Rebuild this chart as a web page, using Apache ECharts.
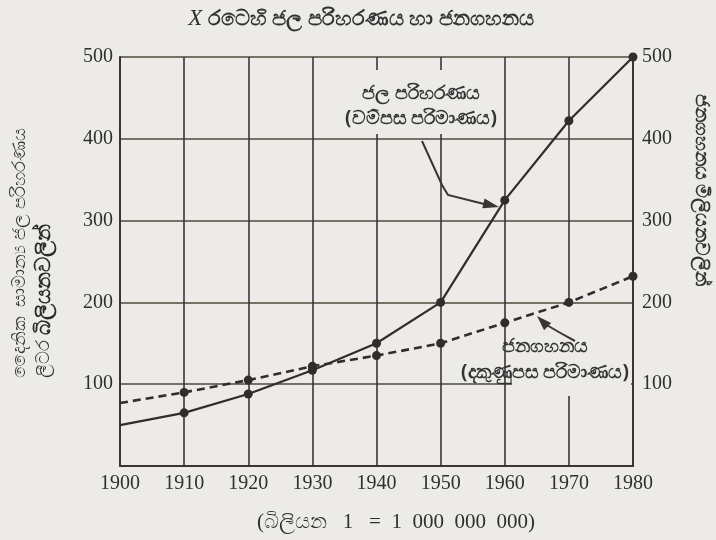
<!DOCTYPE html>
<html><head><meta charset="utf-8">
<script src="https://cdn.jsdelivr.net/npm/echarts@6/dist/echarts.min.js"></script>
<style>html,body{margin:0;padding:0;background:#ecebe8;}#c{width:716px;height:540px;}</style>
</head><body><div id="c"></div>
<script>
const years = [1900, 1910, 1920, 1930, 1940, 1950, 1960, 1970, 1980];
const waterUse = [50, 65, 88, 117, 150, 200, 325, 422, 500];
const population = [77, 90, 105, 122, 135, 150, 175, 200, 232];
const yTicks = [100, 200, 300, 400, 500];

const BG = '#ecebe8';
const INK = '#3a3434';
const chart = echarts.init(document.getElementById('c'));

function pts(vals){ return years.map((y,i)=> ({value:[y, vals[i]], symbol: i===0 ? 'none' : 'circle'})); }

function arrowHead(tip, from, len, wid){
  const dx = tip[0]-from[0], dy = tip[1]-from[1];
  const d = Math.hypot(dx,dy); const ux=dx/d, uy=dy/d;
  const bx = tip[0]-ux*len, by = tip[1]-uy*len;
  return [tip, [bx - uy*wid/2, by + ux*wid/2], [bx + uy*wid/2, by - ux*wid/2]];
}

const serif = 'Liberation Serif';
const axisLabelStyle = {color: '#2f2f2f', fontFamily: serif, fontSize: 20};

const option = {
  backgroundColor: BG,
  animation: false,
  grid: {left: 120, right: 83, top: 57, bottom: 74},
  xAxis: {
    type: 'value', min: 1900, max: 1980, interval: 10,
    axisLine: {show: true, lineStyle: {color: INK, width: 2}},
    axisTick: {show: false},
    axisLabel: Object.assign({margin: 8, formatter: v => String(v)}, axisLabelStyle),
    splitLine: {show: true, lineStyle: {color: '#3d3434', width: 1.6}}
  },
  yAxis: [{
    type: 'value', min: 0, max: 500, interval: 100, position: 'left',
    axisLine: {show: true, lineStyle: {color: INK, width: 2}},
    axisTick: {show: false},
    axisLabel: Object.assign({margin: 7, formatter: v => yTicks.includes(v) ? String(v) : ''}, axisLabelStyle),
    splitLine: {show: true, lineStyle: {color: '#4b4a3c', width: 1.6}}
  },{
    type: 'value', min: 0, max: 500, interval: 100, position: 'right',
    axisLine: {show: true, lineStyle: {color: INK, width: 2}},
    axisTick: {show: false},
    axisLabel: Object.assign({margin: 9, formatter: v => yTicks.includes(v) ? String(v) : ''}, axisLabelStyle),
    splitLine: {show: false}
  }],
  series: [{
    type: 'line', yAxisIndex: 0, data: pts(waterUse),
    symbolSize: 9, itemStyle: {color: '#332c2c'},
    lineStyle: {color: '#332c2c', width: 2.2}, z: 5
  },{
    type: 'line', yAxisIndex: 1, data: pts(population),
    symbolSize: 9, itemStyle: {color: '#332c2c'},
    lineStyle: {color: '#332c2c', width: 2.6, type: [8, 5]}, z: 5
  }],
  graphic: [
    // paper patches where the reference grid is broken by its labels
    {type: 'rect', z: 1, shape: {x: 345, y: 70, width: 156, height: 64}, style: {fill: BG}},
    {type: 'rect', z: 1, shape: {x: 512, y: 328, width: 119, height: 68}, style: {fill: BG}},
    {type: 'rect', z: 1, shape: {x: 565, y: 306, width: 6, height: 24}, style: {fill: BG}},
    {type: 'text', x: 361, y: 19, style: {
      text: '{x|X} රටෙහි ජල පරිහරණය හා ජනගහනය',
      rich: {x: {fontFamily: serif, fontStyle: 'italic', fontSize: 23, fill: '#2f2f2f'}},
      font: 'bold 21px "Noto Sans"', fill: '#333', align: 'center', verticalAlign: 'middle'}},
    {type: 'text', x: 396, y: 522, style: {text: '(බිලියන   1   =  1  000  000  000)', font: '21px "Liberation Serif"', fill: '#2f2f2f', align: 'center', verticalAlign: 'middle'}},
    {type: 'text', x: 20, y: 378, rotation: Math.PI/2, style: {text: 'දෛනික  සාමාන්‍ය ජල පරිහරණය', font: '18px "Noto Sans"', fill: '#333', align: 'left', verticalAlign: 'middle'}},
    {type: 'text', x: 44, y: 378, rotation: Math.PI/2, style: {text: '{a|ලීටර} {b|බිලියනවලින්}', rich: {a: {fontSize: 18, fill: '#333'}, b: {fontSize: 21, fontWeight: 'bold', fill: '#2a2a2a'}}, font: '18px "Noto Sans"', fill: '#333', align: 'left', verticalAlign: 'middle'}},
    {type: 'text', x: 701, y: 190, rotation: -Math.PI/2, style: {text: 'ජනගහනය මිලියනවලින්', font: 'bold 19px "Noto Sans"', fill: '#333', align: 'center', verticalAlign: 'middle'}},
    {type: 'text', x: 421, y: 106, z: 20, style: {text: 'ජල පරිහරණය\n(වම්පස පරිමාණය)', font: 'bold 19px "Noto Sans"', lineHeight: 25, fill: '#333', align: 'center', verticalAlign: 'middle'}},
    {type: 'polyline', z: 20, shape: {points: [[422,141],[442,185],[448,195],[488,205]]}, style: {stroke: '#3a3434', lineWidth: 2, fill: null}},
    {type: 'polygon', z: 20, shape: {points: arrowHead([499,207],[448,195],16,10)}, style: {fill: '#3a3434'}},
    {type: 'text', x: 545, y: 360, z: 20, style: {text: 'ජනගහනය\n(දකුණුපස පරිමාණය)', font: 'bold 19px "Noto Sans"', lineHeight: 26, fill: '#333', align: 'center', verticalAlign: 'middle'}},
    {type: 'bezierCurve', z: 20, shape: {x1: 575, y1: 341, x2: 545, y2: 324, cpx1: 560, cpy1: 333}, style: {stroke: '#3a3434', lineWidth: 2, fill: null}},
    {type: 'polygon', z: 20, shape: {points: arrowHead([537,316],[552,331],15,10)}, style: {fill: '#3a3434'}}
  ]
};
chart.setOption(option);
</script></body></html>
